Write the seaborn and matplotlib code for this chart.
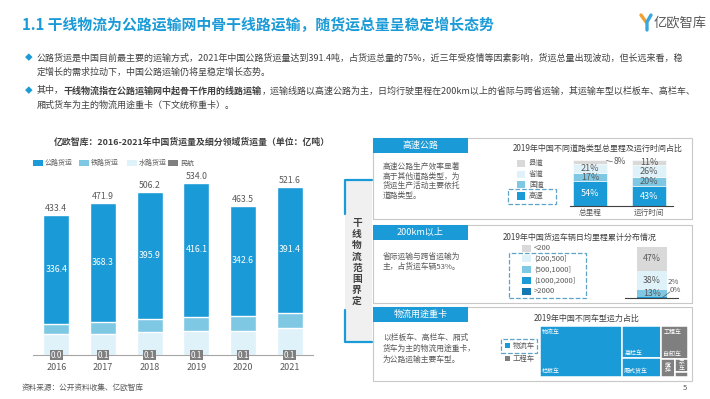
import numpy as np
import pandas as pd
import seaborn as sns
import matplotlib.pyplot as plt
from matplotlib.patches import Rectangle
from matplotlib.lines import Line2D

# ── 数据 ──────────────────────────────────────────────
years = ["2016", "2017", "2018", "2019", "2020", "2021"]
roadFreight = [336.4, 368.3, 395.9, 416.1, 342.6, 391.4]
railFreight = [33.3, 36.9, 40.2, 43.2, 45.5, 47.7]
waterFreight = [63.7, 66.6, 70.0, 74.6, 75.3, 82.4]
airFreight = [0.0, 0.1, 0.1, 0.1, 0.1, 0.1]
totalFreight = [433.4, 471.9, 506.2, 534.0, 463.5, 521.6]
freightNames = ["公路货运", "铁路货运", "水路货运", "民航"]

roadTypes = ["高速", "国道", "省道", "县道"]
roadBars = ["总里程", "运行时间"]
mileageShare = [54, 17, 21, 8]
runTimeShare = [43, 20, 26, 11]

mileBins = ["<200", "(200,500]", "(500,1000]", "(1000,2000]", ">2000"]
mileShare = [47, 38, 13, 2, 0]

truckTypes = ["栏板车", "高栏车", "厢式货车", "自卸车", "搅拌车", "泵车", "其他"]
truckShare = [55.4, 16.6, 9.8, 11.8, 3.3, 2.3, 0.8]
truckGroups = ["物流车", "工程车"]

BLUE = "#1a9ad6"
LBLUE = "#7ec8e3"
PALE = "#dff1f9"
GRAY = "#7f7f7f"
LGRAY = "#d9d9d9"
DBLUE = "#1479b2"
TXT = "#404040"
TXT2 = "#595959"

sns.set_theme(style="white")
plt.rcParams['font.family'] = ['Noto Sans CJK SC', 'DejaVu Sans']

W, H = 710, 399
fig = plt.figure(figsize=(W / 100, H / 100), dpi=100)
renderer = fig.canvas.get_renderer()


def fx(x):
    return x / W


def fy(y):
    return 1 - y / H


def addAx(x0, y0, x1, y1):
    a = fig.add_axes([fx(x0), fy(y1), (x1 - x0) / W, (y1 - y0) / H])
    a.set_zorder(2)
    a.patch.set_alpha(0)
    return a


def ftxt(x, y, s, **kw):
    kw.setdefault("va", "center")
    return fig.text(fx(x), fy(y), s, **kw)


def fbox(x0, y0, x1, y1, **kw):
    r = Rectangle((fx(x0), fy(y1)), (x1 - x0) / W, (y1 - y0) / H,
                  transform=fig.transFigure, **kw)
    fig.add_artist(r)
    return r


def richLine(x, y, parts, **kw):
    # 逐段绘制，粗体与常规混排
    for s, bold in parts:
        t = ftxt(x, y, s, weight="bold" if bold else "normal", **kw)
        x += t.get_window_extent(renderer=renderer).width


# ── 标题与正文 ────────────────────────────────────────
ftxt(22, 25, "1.1 干线物流为公路运输网中骨干线路运输，随货运总量呈稳定增长态势",
     fontsize=10.7, weight="bold", color=BLUE)

fig.add_artist(Line2D([fx(641), fx(646)], [fy(15), fy(22)], color="#f0a030", lw=2.4,
                      transform=fig.transFigure))
fig.add_artist(Line2D([fx(651), fx(647), fx(647)], [fy(15), fy(22), fy(30)], color="#39a6dd",
                      lw=2.4, transform=fig.transFigure))
ftxt(654, 23, "亿欧智库", fontsize=9.5, color=TXT2)

bodyKw = dict(fontsize=6.5, color=TXT)
ftxt(25, 58, "◆", fontsize=5.5, color=BLUE)
ftxt(37, 58, "公路货运是中国目前最主要的运输方式，2021年中国公路货运量达到391.4吨，占货运总量的75%，"
             "近三年受疫情等因素影响，货运总量出现波动，但长远来看，稳", **bodyKw)
ftxt(37, 72, "定增长的需求拉动下，中国公路运输仍将呈稳定增长态势。", **bodyKw)
ftxt(25, 91, "◆", fontsize=5.5, color=BLUE)
richLine(37, 91, [("其中，", False), ("干线物流指在公路运输网中起骨干作用的线路运输", True),
                  ("，运输线路以高速公路为主，日均行驶里程在200km以上的省际与跨省运输，其运输车型以栏板车、高栏车、", False)],
         **bodyKw)
ftxt(37, 105, "厢式货车为主的物流用途重卡（下文统称重卡）。", **bodyKw)

ftxt(22, 388, "资料来源：公开资料收集、亿欧智库", fontsize=5.5, color=TXT2)
ftxt(683, 388, "5", fontsize=5.5, color=TXT2)

# ── 左侧：货运量堆叠柱状图 ──────────────────────────────
ftxt(192, 142, "亿欧智库：2016-2021年中国货运量及细分领域货运量（单位：亿吨）",
     fontsize=6.4, weight="bold", color=TXT, ha="center")

legendX = [33, 79, 127, 168]
for lx, name, col in zip(legendX, freightNames, [BLUE, LBLUE, PALE, GRAY]):
    fbox(lx, 160, lx + 10, 166, facecolor=col, edgecolor="none")
    ftxt(lx + 12, 163.5, name, fontsize=5, color=TXT2)

df = pd.DataFrame({"year": years, "road": roadFreight, "rail": railFreight,
                   "water": waterFreight, "air": airFreight, "total": totalFreight})
df["cumRoad"] = df["road"] + df["rail"] + df["water"]
df["cumRail"] = df["rail"] + df["water"]

ax = addAx(33, 168, 313, 355)
sns.barplot(data=df, x="year", y="cumRoad", color=BLUE, width=0.56, saturation=1, ax=ax)
sns.barplot(data=df, x="year", y="cumRail", color=LBLUE, width=0.56, saturation=1, ax=ax)
sns.barplot(data=df, x="year", y="water", color=PALE, width=0.56, saturation=1, ax=ax)
ax.set_xlim(-0.5, 5.5)
ax.set_ylim(0, 580)
ax.set_xlabel("")
ax.set_ylabel("")
ax.set_yticks([])
ax.tick_params(axis="x", length=0, pad=6, labelsize=6.5, labelcolor=TXT2)
for side in ["top", "right", "left"]:
    ax.spines[side].set_visible(False)
ax.spines["bottom"].set_color("#a6a6a6")
ax.spines["bottom"].set_linewidth(0.8)

for i, row in df.iterrows():
    ax.text(i, row["cumRoad"] + 6, f"{row['total']:.1f}", ha="center", va="bottom",
            fontsize=6.3, color=TXT2)
    ax.text(i, row["cumRail"] + row["road"] / 2, f"{row['road']:.1f}", ha="center", va="center",
            fontsize=6.3, color="white")
    ax.text(i, 0, f"{row['air']:.1f}", ha="center", va="center", fontsize=5.8, color="white",
            bbox=dict(boxstyle="square,pad=0.08", facecolor=GRAY, edgecolor="none"), clip_on=False)

# ── 右侧：范围界定 ────────────────────────────────────
fbox(345, 180, 372, 342, facecolor="#f0f0f0", edgecolor="none")
for xs, ys in [([372, 345, 345], [180, 180, 214]), ([345, 345, 372], [310, 342, 342])]:
    fig.add_artist(Line2D([fx(v) for v in xs], [fy(v) for v in ys], color=BLUE, lw=1.6,
                          transform=fig.transFigure))
ftxt(357, 262, "\n".join("干线物流范围界定"), fontsize=7, weight="bold", color=TXT,
     ha="center", linespacing=1.15)

panels = [(138, 219, "高速公路"), (225, 303, "200km以上"), (307, 381, "物流用途重卡")]
for top, bottom, head in panels:
    fbox(373, top, 692, bottom, facecolor="white", edgecolor="#c8c8c8", lw=0.8, zorder=0.5)
    fbox(373, top, 468, top + 15, facecolor=BLUE, edgecolor="none")
    ftxt(420.5, top + 7.5, head, fontsize=6.5, color="white", ha="center")

panelKw = dict(fontsize=5.6, color=TXT2)
for y, s in zip([167, 176.5, 186, 195.5], ["高速公路生产效率显著", "高于其他道路类型，为",
                                          "货运生产活动主要依托", "道路类型。"]):
    ftxt(383, y, s, **panelKw)
for y, s in zip([257, 267], ["省际运输与跨省运输为", "主，占货运车辆53%。"]):
    ftxt(383, y, s, **panelKw)
for y, s in zip([338, 349, 360], ["以栏板车、高栏车、厢式", "货车为主的物流用途重卡，", "为公路运输主要车型。"]):
    ftxt(383, y, s, **panelKw)

# 道路类型占比
ftxt(598, 148, "2019年中国不同道路类型总里程及运行时间占比", fontsize=5.8, color=TXT, ha="center")
roadCols = [BLUE, LBLUE, PALE, LGRAY]
for k, (name, col) in enumerate(zip(roadTypes, roadCols)):
    y = 196 - 11 * k
    fbox(517, y - 3.5, 525, y + 3.5, facecolor=col, edgecolor="none")
    ftxt(529, y, name, fontsize=5.3, color=TXT2)
fbox(508, 189, 556, 204, facecolor="none", edgecolor="#5fa3c9", lw=0.9, ls="--")

ax1 = addAx(570, 156, 673, 206)
shares = np.array([mileageShare, runTimeShare])
bottoms = np.zeros(2)
for k, col in enumerate(roadCols):
    ax1.bar(range(2), shares[:, k], bottom=bottoms, width=0.56, color=col, edgecolor="white", lw=0.4)
    for j in range(2):
        v = shares[j, k]
        tc = "white" if k == 0 else TXT2
        if v < 10:
            ax1.plot([0.28, 0.38], [99, 96], color=TXT2, lw=0.5)
            ax1.text(0.4, 96, f"{v}%", fontsize=6, color=TXT2, va="center")
        else:
            ax1.text(j, bottoms[j] + v / 2, f"{v}%", fontsize=6.5, color=tc, ha="center", va="center")
    bottoms += shares[:, k]
ax1.set_xlim(-0.339, 1.407)
ax1.set_ylim(0, 108.7)
ax1.set_xticks(range(2), roadBars)
ax1.set_yticks([])
ax1.tick_params(axis="x", length=0, pad=2, labelsize=5.5, labelcolor=TXT2)
for side in ["top", "right", "left"]:
    ax1.spines[side].set_visible(False)
ax1.spines["bottom"].set_color("#404040")
ax1.spines["bottom"].set_linewidth(0.8)

# 日均里程分布
ftxt(580, 237, "2019年中国货运车辆日均里程累计分布情况", fontsize=5.8, color=TXT, ha="center")
mileCols = [LGRAY, PALE, LBLUE, BLUE, DBLUE]
for k, (name, col) in enumerate(zip(mileBins, mileCols)):
    y = 248 + 10.8 * k
    fbox(522, y - 3.5, 531, y + 3.5, facecolor=col, edgecolor="none")
    ftxt(534, y, name, fontsize=5.5, color=TXT2)
fbox(509, 253, 586, 298, facecolor="none", edgecolor="#5fa3c9", lw=0.9, ls="--")

ax2 = addAx(625, 244, 678, 298)
bottom = 0
for name, v, col in list(zip(mileBins, mileShare, mileCols))[::-1]:
    ax2.bar(0, v, bottom=bottom, width=1, color=col, edgecolor="none")
    if v >= 10:
        ax2.text(0, bottom + v / 2, f"{v}%", fontsize=6.3, color=TXT2, ha="center", va="center")
    bottom += v
ax2.text(0.53, 32, f"{mileShare[3]}%", fontsize=5.6, color=TXT2, va="center")
ax2.text(0.6, 16, f"{mileShare[4]}%", fontsize=5.6, color=TXT2, va="center")
ax2.plot([0.35, 0.6], [1, 12], color=TXT2, lw=0.5)
ax2.set_xlim(-0.9, 0.867)
ax2.set_ylim(0, 105.9)
ax2.set_xticks([])
ax2.set_yticks([])
for side in ["top", "right", "left"]:
    ax2.spines[side].set_visible(False)
ax2.spines["bottom"].set_color("#404040")
ax2.spines["bottom"].set_linewidth(0.8)

# 车型运力占比 treemap
ftxt(587, 318, "2019年中国不同车型运力占比", fontsize=5.8, color=TXT, ha="center")
fbox(501, 339, 537, 353, facecolor="none", edgecolor="#5fa3c9", lw=0.9, ls="--")
for y, name, col in [(345.5, truckGroups[0], BLUE), (358.5, truckGroups[1], GRAY)]:
    fbox(505, y - 2.3, 509.6, y + 2.3, facecolor=col, edgecolor="none")
    ftxt(513, y, name, fontsize=5.3, color=TXT2)

shareOf = dict(zip(truckTypes, truckShare))
tree = [["栏板车"], ["高栏车", "厢式货车"], ["自卸车", ["搅拌车", ["泵车", "其他"]]]]


def nodeSum(node):
    return shareOf[node] if isinstance(node, str) else sum(nodeSum(c) for c in node)


def layout(node, x, y, w, h, horizontal, out):
    if isinstance(node, str):
        out[node] = (x, y, w, h)
        return
    total = nodeSum(node)
    if horizontal:
        for c in node:
            cw = w * nodeSum(c) / total
            layout(c, x, y, cw, h, False, out)
            x += cw
    else:
        top = y + h
        for c in node:
            ch = h * nodeSum(c) / total
            layout(c, x, top - ch, w, ch, True, out)
            top -= ch


rects = {}
layout(tree, 0, 0, 1, 1, True, rects)
ax3 = addAx(540, 326, 688, 377)
for name, (x, y, w, h) in rects.items():
    col = BLUE if truckTypes.index(name) < 3 else GRAY
    ax3.add_patch(Rectangle((x, y), w, h, facecolor=col, edgecolor="white", lw=1.1))
labKw = dict(fontsize=4.3, color="white")
for name in ["栏板车", "高栏车", "厢式货车", "自卸车"]:
    x, y, w, h = rects[name]
    ax3.text(x + 0.015, y + 0.05, name, va="bottom", **labKw)
for name, grp in [("栏板车", "物流车"), ("自卸车", "工程车")]:
    x, y, w, h = rects[name]
    ax3.text(x + 0.015, y + h - 0.06, grp, va="top", **labKw)
for name in ["搅拌车", "泵车"]:
    x, y, w, h = rects[name]
    ax3.text(x + w / 2, y + h / 2, "\n".join(name[:2]), ha="center", va="center",
             linespacing=1.0, **labKw)
ax3.set_xlim(0, 1)
ax3.set_ylim(0, 1)
ax3.axis("off")

fig.savefig("out.png", dpi=100)
